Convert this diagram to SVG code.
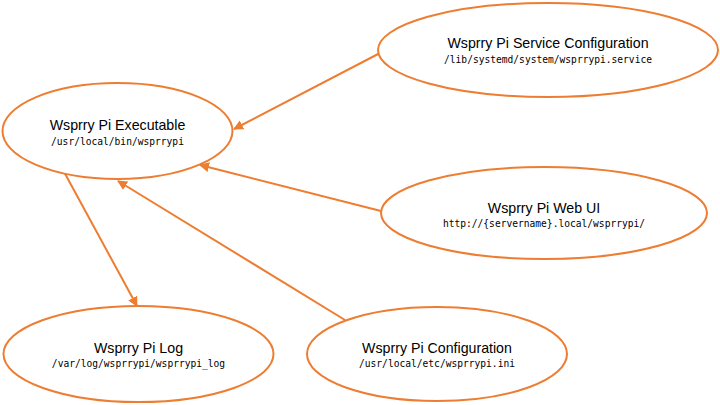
<svg xmlns="http://www.w3.org/2000/svg" width="720" height="405" viewBox="0 0 720 405">
<defs>
<marker id="arr" viewBox="0 0 10 10" refX="9" refY="5" markerWidth="10" markerHeight="10" markerUnits="userSpaceOnUse" orient="auto">
<path d="M0,0 L10,5 L0,10 z" fill="#ED7D31"/>
</marker>
<style>
.node ellipse{fill:#fff;stroke:#ED7D31;stroke-width:2}
.t{font-family:"Liberation Sans",Arial,sans-serif;font-size:14.2px;fill:#000;text-anchor:middle}
.m{font-family:"DejaVu Sans Mono","Liberation Mono",monospace;font-size:9.6px;fill:#000;text-anchor:middle}
.edges line{stroke:#ED7D31;stroke-width:2;marker-end:url(#arr)}
</style>
</defs>
<rect width="720" height="405" fill="#fff"/>
<g class="edges">
<line x1="380" y1="53" x2="234" y2="129"/>
<line x1="381" y1="211" x2="200" y2="165"/>
<line x1="345" y1="320" x2="118" y2="181"/>
<line x1="63" y1="170" x2="137" y2="306"/>
</g>
<g id="executable" class="node">
<ellipse cx="117.5" cy="131" rx="115" ry="48"/>
<text class="t" x="117.5" y="130">Wsprry Pi Executable</text>
<text class="m" x="117.5" y="145">/usr/local/bin/wsprrypi</text>
</g>
<g id="service" class="node">
<ellipse cx="548" cy="50" rx="170" ry="47"/>
<text class="t" x="548" y="48">Wsprry Pi Service Configuration</text>
<text class="m" x="548" y="63">/lib/systemd/system/wsprrypi.service</text>
</g>
<g id="webui" class="node">
<ellipse cx="544" cy="213" rx="163" ry="46"/>
<text class="t" x="544" y="213">Wsprry Pi Web UI</text>
<text class="m" x="544" y="227">http://{servername}.local/wsprrypi/</text>
</g>
<g id="log" class="node">
<ellipse cx="138.5" cy="354" rx="135" ry="48"/>
<text class="t" x="138.5" y="353">Wsprry Pi Log</text>
<text class="m" x="138.5" y="367">/var/log/wsprrypi/wsprrypi_log</text>
</g>
<g id="config" class="node">
<ellipse cx="437" cy="354" rx="130" ry="47"/>
<text class="t" x="437" y="353">Wsprry Pi Configuration</text>
<text class="m" x="437" y="367">/usr/local/etc/wsprrypi.ini</text>
</g>
</svg>
